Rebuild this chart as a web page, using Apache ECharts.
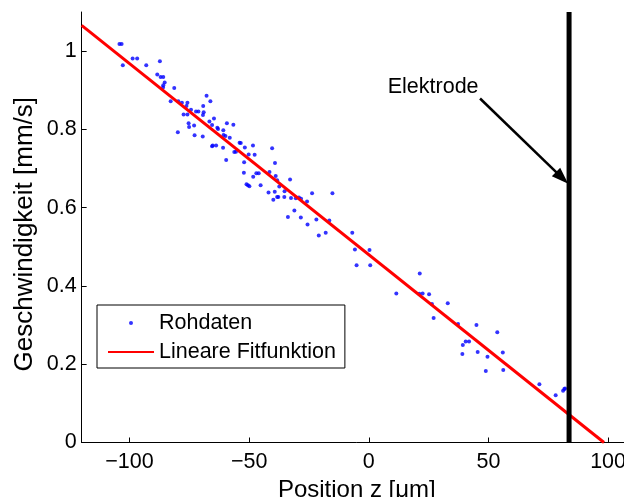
<!DOCTYPE html>
<html>
<head>
<meta charset="utf-8">
<script src="https://cdn.jsdelivr.net/npm/echarts@6/dist/echarts.min.js"></script>
<style>
  html, body { margin: 0; padding: 0; background: #fff; overflow: hidden; }
  #chart { width: 640px; height: 497px; }
</style>
</head>
<body>
<div id="chart"></div>
<script>
  // Rohdaten: Position z [µm] / Geschwindigkeit [mm/s]
  var rawZ = [
    -104.2, -103.3, -102.8, -98.7, -96.8, -93.0, -87.3, -88.4, -87.0, -85.9,
    -85.3, -85.9, -86.0, -81.3, -82.8, -79.6, -78.1, -75.8, -76.2, -74.3,
    -72.2, -71.2, -77.4, -75.8, -75.3, -75.1, -73.0, -79.8, -72.8, -67.8,
    -66.2, -69.2, -69.0, -69.3, -69.4, -66.6, -64.7, -65.5, -63.3, -63.0,
    -60.8, -59.3, -56.6, -60.7, -59.9, -58.1, -65.5, -65.2, -63.8, -60.9,
    -59.6, -56.2, -55.5, -54.0, -53.5, -51.8, -48.4, -50.2, -47.7, -52.1,
    -52.2, -48.3, -47.0, -46.0, -40.4, -39.2, -41.5, -38.9, -38.3, -51.1,
    -50.5, -49.9, -45.2, -37.4, -41.9, -39.3, -39.9, -38.3, -37.8, -35.2,
    -35.3, -32.9, -32.5, -30.5, -29.2, -28.3, -25.8, -23.7, -15.2, -31.1,
    -33.8, -28.4, -25.6, -21.9, -16.5, -20.9, -18.0, -6.9, -5.8, 0.3,
    -5.1, 0.6, 11.5, 21.3, 21.1, 22.5, 25.2, 26.4, 33.0, 27.1,
    37.3, 45.0, 40.5, 41.9, 39.3, 39.1, 45.5, 49.6, 53.7, 56.0,
    48.9, 56.2, 71.3, 78.1, 81.2, 81.7, 82.0
  ];
  var rawV = [
    1.018, 1.018, 0.964, 0.981, 0.981, 0.964, 0.974, 0.940, 0.934, 0.934,
    0.920, 0.913, 0.907, 0.906, 0.872, 0.872, 0.868, 0.868, 0.860, 0.850,
    0.846, 0.846, 0.838, 0.838, 0.816, 0.806, 0.810, 0.793, 0.785, 0.886,
    0.872, 0.860, 0.844, 0.837, 0.782, 0.820, 0.828, 0.811, 0.804, 0.801,
    0.798, 0.816, 0.812, 0.786, 0.783, 0.779, 0.757, 0.759, 0.759, 0.753,
    0.722, 0.742, 0.743, 0.766, 0.765, 0.754, 0.759, 0.736, 0.735, 0.716,
    0.689, 0.679, 0.688, 0.688, 0.752, 0.714, 0.691, 0.681, 0.670, 0.660,
    0.657, 0.655, 0.657, 0.654, 0.639, 0.641, 0.620, 0.627, 0.627, 0.642,
    0.627, 0.672, 0.625, 0.624, 0.626, 0.623, 0.616, 0.637, 0.637, 0.593,
    0.576, 0.575, 0.557, 0.570, 0.567, 0.529, 0.536, 0.536, 0.493, 0.492,
    0.453, 0.453, 0.381, 0.432, 0.380, 0.381, 0.379, 0.354, 0.356, 0.318,
    0.303, 0.300, 0.258, 0.258, 0.249, 0.226, 0.231, 0.219, 0.282, 0.230,
    0.183, 0.185, 0.149, 0.121, 0.132, 0.137, 0.138
  ];

  // lineare Fitfunktion (Endpunkte)
  var fitZ = [-120, 98.3];
  var fitV = [1.066, 0];

  // Elektrode
  var electrodeZ = 83.7;
  var electrodeV = [0, 1.1];
  var arrowFrom = [46.5, 0.879];
  var arrowTo = [80.8, 0.676];
  var labelAt = [26.9, 0.909];

  var xTicks = [-100, -50, 0, 50, 100];
  var yTicks = [0, 0.2, 0.4, 0.6, 0.8, 1];

  var font = 'Liberation Sans, Arial, Helvetica, sans-serif';

  function minus(v) {
    return v < 0 ? '\u2212' + (-v) : String(v);
  }

  var chart = echarts.init(document.getElementById('chart'), null, { renderer: 'canvas' });

  chart.setOption({
    animation: false,
    backgroundColor: '#fff',
    textStyle: { fontFamily: font, color: '#000' },
    grid: {
      left: 81.65, top: 12, width: 550.35, height: 430.5,
      containLabel: false,
      outerBoundsMode: 'none'
    },
    legend: {
      orient: 'vertical',
      left: 97,
      top: 305,
      padding: [7, 9, 5, 10],
      itemGap: 7,
      itemWidth: 46,
      itemHeight: 4,
      backgroundColor: '#fff',
      borderColor: '#000',
      borderWidth: 1,
      borderRadius: 0,
      textStyle: { fontSize: 21.5, color: '#000', fontFamily: font },
      data: [
        { name: 'Rohdaten', icon: 'circle' },
        { name: 'Lineare Fitfunktion', itemStyle: { opacity: 0 } }
      ]
    },
    xAxis: {
      type: 'value',
      min: -120,
      max: 110,
      name: 'Position z [\u03bcm]',
      nameLocation: 'middle',
      nameGap: 27,
      nameTextStyle: { fontSize: 24, color: '#000', fontFamily: font },
      axisLine: { show: true, onZero: false, lineStyle: { color: '#000', width: 1 } },
      axisTick: { show: true, inside: true, length: 5, customValues: xTicks, lineStyle: { color: '#000' } },
      axisLabel: { customValues: xTicks, formatter: minus, fontSize: 21.5, color: '#000', margin: 9 },
      splitLine: { show: false }
    },
    yAxis: {
      type: 'value',
      min: 0,
      max: 1.1,
      name: 'Geschwindigkeit [mm/s]',
      nameLocation: 'middle',
      nameGap: 44,
      nameMoveOverlap: false,
      nameTextStyle: { fontSize: 26, color: '#000', fontFamily: font, padding: [0, 14, 0, 0] },
      axisLine: { show: true, onZero: false, lineStyle: { color: '#000', width: 1 } },
      axisTick: { show: true, inside: true, length: 5, customValues: yTicks, lineStyle: { color: '#000' } },
      axisLabel: { customValues: yTicks, fontSize: 21.5, color: '#000', margin: 5 },
      splitLine: { show: false }
    },
    series: [
      {
        name: 'Rohdaten',
        type: 'scatter',
        symbol: 'circle',
        symbolSize: 4,
        itemStyle: { color: '#0000ff' },
        data: rawZ.map(function (z, i) { return [z, rawV[i]]; }),
        z: 2
      },
      {
        name: 'Lineare Fitfunktion',
        type: 'line',
        symbol: 'none',
        showSymbol: false,
        lineStyle: { color: '#ff0000', width: 3 },
        itemStyle: { color: '#ff0000' },
        data: fitZ.map(function (z, i) { return [z, fitV[i]]; }),
        z: 3
      },
      {
        name: 'Elektrode',
        type: 'line',
        symbol: 'none',
        showSymbol: false,
        lineStyle: { color: '#000', width: 5 },
        data: electrodeV.map(function (v) { return [electrodeZ, v]; }),
        z: 4,
        markLine: {
          silent: true,
          symbol: ['none', 'triangle'],
          symbolSize: [12, 17],
          label: { show: false },
          lineStyle: { color: '#000', width: 2.5, type: 'solid' },
          data: [[{ coord: arrowFrom }, { coord: arrowTo }]]
        },
        markPoint: {
          silent: true,
          symbol: 'circle',
          symbolSize: 1,
          itemStyle: { color: 'rgba(0,0,0,0)' },
          label: {
            show: true,
            position: 'inside',
            formatter: 'Elektrode',
            fontSize: 21.5,
            color: '#000',
            fontFamily: font
          },
          data: [{ coord: labelAt }]
        }
      }
    ]
  });
</script>
</body>
</html>
